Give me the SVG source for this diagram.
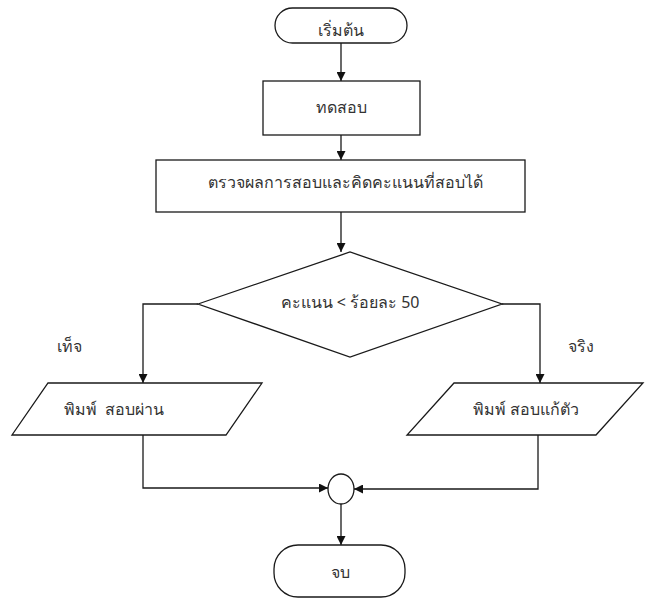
<svg xmlns="http://www.w3.org/2000/svg" width="645" height="599" viewBox="0 0 645 599">
  <style>
    .shape { fill: #ffffff; stroke: #1a1a1a; stroke-width: 1.3; }
    .edge { fill: none; stroke: #1a1a1a; stroke-width: 1.3; }
    .label { font-family: "Noto Sans", "Liberation Sans", "DejaVu Sans", sans-serif; font-size: 16px; fill: #333333; text-anchor: middle; }
  </style>
  <defs>
    <marker id="arrow" viewBox="0 0 10 10" refX="10" refY="5" markerWidth="9" markerHeight="9" markerUnits="userSpaceOnUse" orient="auto">
      <path d="M0,0 L10,5 L0,10 Z" fill="#111111"/>
    </marker>
  </defs>
  <rect width="645" height="599" fill="#ffffff"/>

  <g id="connectors">
    <line class="edge" x1="341" y1="43" x2="341" y2="81" marker-end="url(#arrow)"/>
    <line class="edge" x1="341" y1="135" x2="341" y2="160" marker-end="url(#arrow)"/>
    <line class="edge" x1="341" y1="212" x2="341" y2="252" marker-end="url(#arrow)"/>
    <polyline class="edge" points="198,304 143,304 143,383" marker-end="url(#arrow)"/>
    <polyline class="edge" points="502,304 540,304 540,383" marker-end="url(#arrow)"/>
    <polyline class="edge" points="143,435 143,488 328,488" marker-end="url(#arrow)"/>
    <polyline class="edge" points="538,435 538,489 354,489" marker-end="url(#arrow)"/>
    <line class="edge" x1="341" y1="504" x2="341" y2="545" marker-end="url(#arrow)"/>
  </g>

  <g id="start">
    <rect class="shape" x="275" y="8" width="132" height="35" rx="17.5" ry="17.5"/>
    <text class="label" x="341" y="36">เริ่มต้น</text>
  </g>

  <g id="test">
    <rect class="shape" x="263" y="81" width="157" height="54"/>
    <text class="label" x="341" y="113">ทดสอบ</text>
  </g>

  <g id="grade">
    <rect class="shape" x="156" y="160" width="369" height="52"/>
    <text class="label" x="345" y="188">ตรวจผลการสอบและคิดคะแนนที่สอบได้</text>
  </g>

  <g id="decision">
    <polygon class="shape" points="198,304 350,252 502,304 350,357"/>
    <text class="label" x="350" y="308">คะแนน &lt; ร้อยละ 50</text>
  </g>

  <text id="label-false" class="label" x="69" y="352">เท็จ</text>
  <text id="label-true" class="label" x="581" y="352">จริง</text>

  <g id="print-pass">
    <polygon class="shape" points="48,383 262,383 226,435 12,435"/>
    <text class="label" x="114" y="415">พิมพ์&#160; สอบผ่าน</text>
  </g>

  <g id="print-fail">
    <polygon class="shape" points="454,383 643,383 596,435 407,435"/>
    <text class="label" x="526" y="415">พิมพ์ สอบแก้ตัว</text>
  </g>

  <g id="join">
    <ellipse class="shape" cx="341" cy="489" rx="13" ry="15"/>
  </g>

  <g id="end">
    <rect class="shape" x="274" y="545" width="131" height="52" rx="24" ry="24"/>
    <text class="label" x="340" y="578">จบ</text>
  </g>
</svg>
